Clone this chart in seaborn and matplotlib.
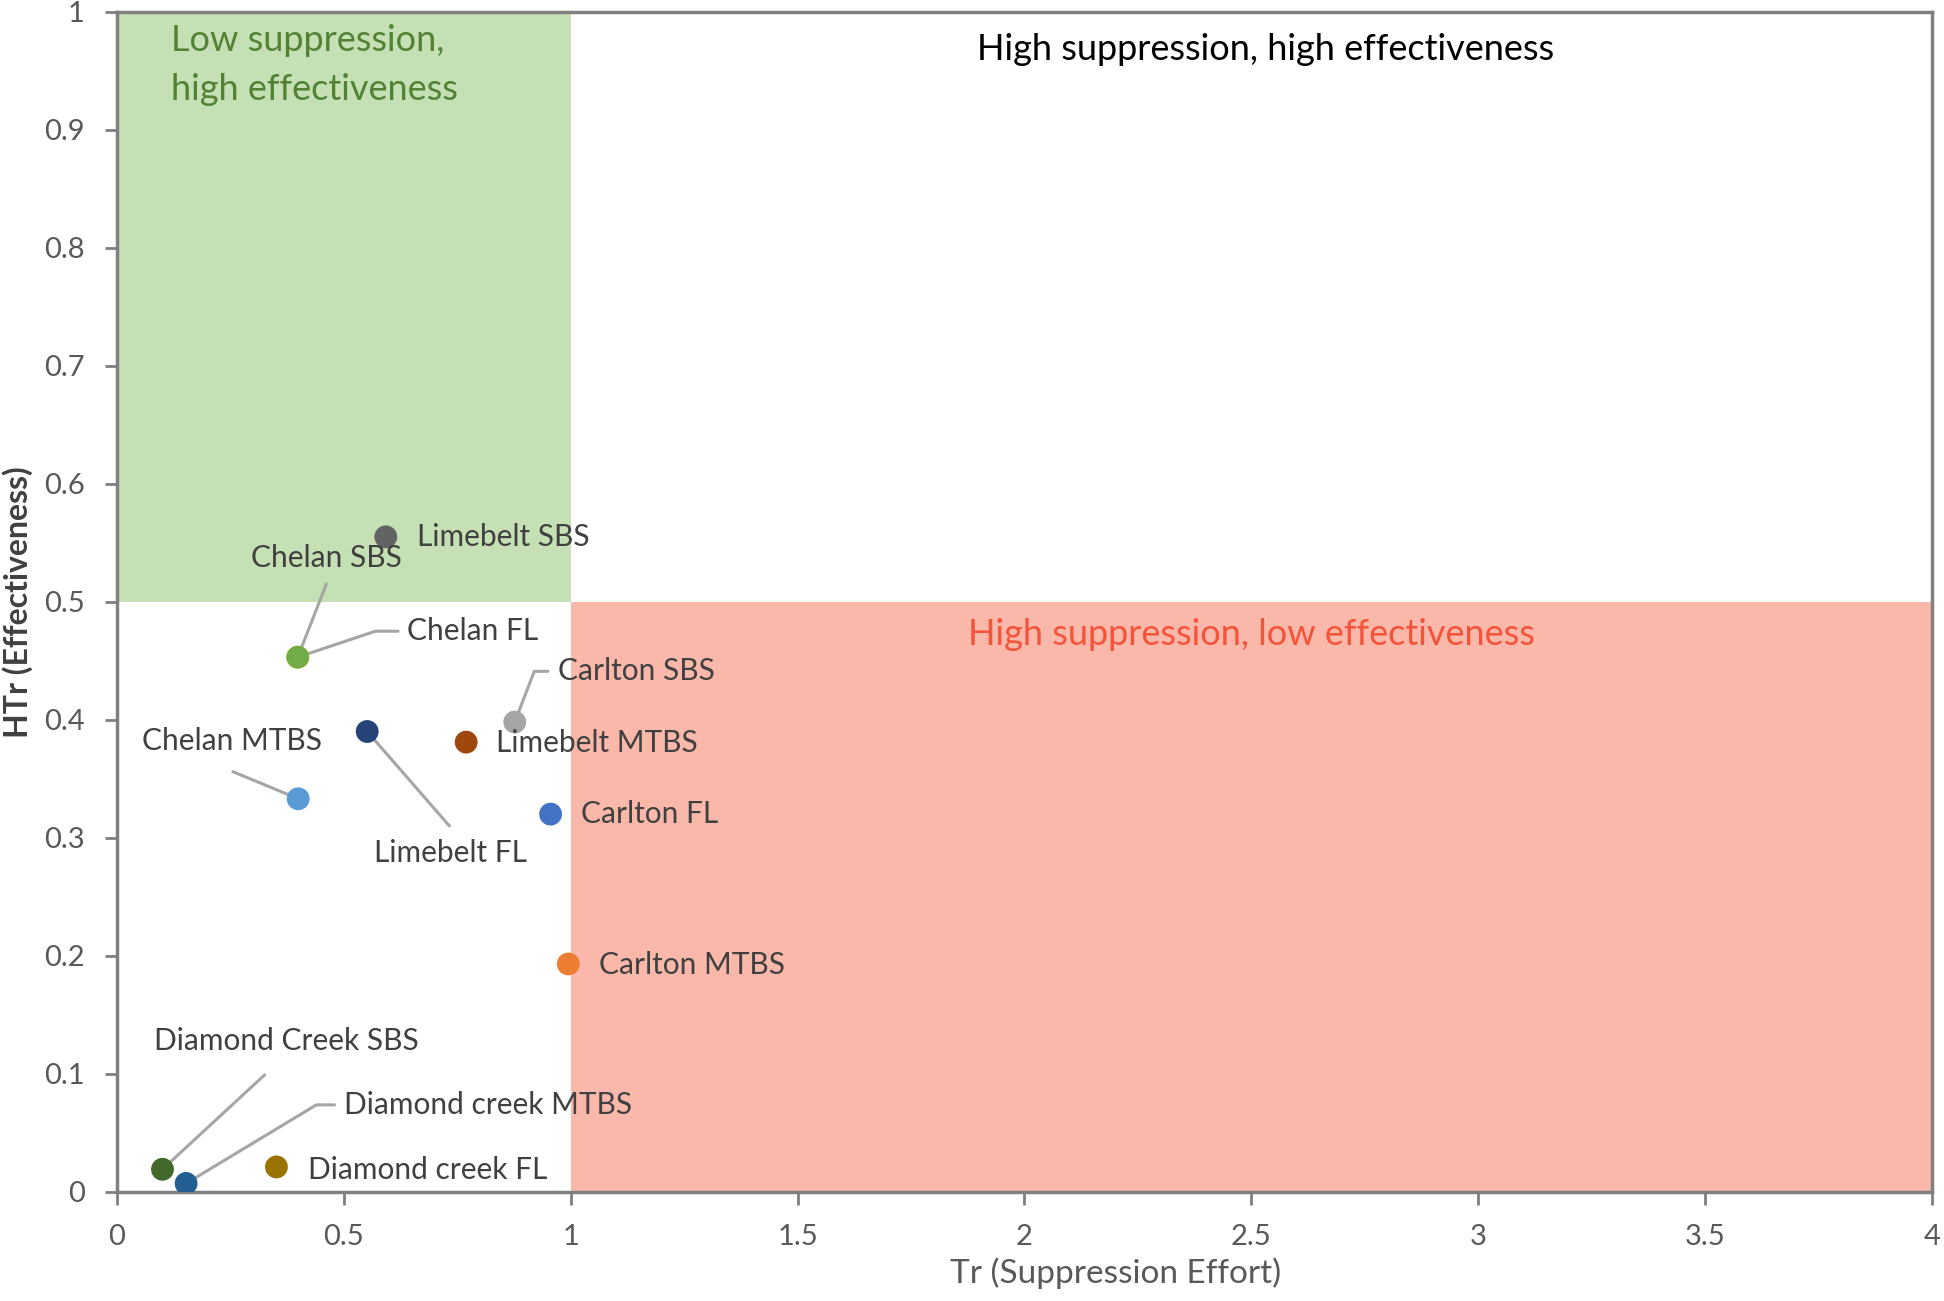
import matplotlib
matplotlib.use("Agg")
import matplotlib.pyplot as plt
import seaborn as sns
import pandas as pd

# ----------- data -----------
names = ['Carlton FL', 'Carlton MTBS', 'Carlton SBS', 'Chelan SBS', 'Chelan MTBS', 'Chelan FL',
         'Limebelt FL', 'Limebelt MTBS', 'Limebelt SBS', 'Diamond creek FL',
         'Diamond creek MTBS', 'Diamond Creek SBS']
tr = [0.956, 0.995, 0.877, 0.399, 0.40, 0.399, 0.552, 0.770, 0.593, 0.352, 0.153, 0.101]
htr = [0.320, 0.193, 0.398, 0.453, 0.333, 0.453, 0.390, 0.381, 0.555, 0.021, 0.007, 0.019]
colors = ['#4472C4', '#ED7D31', '#A5A5A5', '#FFC000', '#5B9BD5', '#70AD47',
          '#264478', '#9E480E', '#636363', '#997300', '#255E91', '#43682B']

x_ticks = [0, 0.5, 1, 1.5, 2, 2.5, 3, 3.5, 4]
x_ticklabels = ['0', '0.5', '1', '1.5', '2', '2.5', '3', '3.5', '4']
y_ticks = [0, 0.1, 0.2, 0.3, 0.4, 0.5, 0.6, 0.7, 0.8, 0.9, 1]
y_ticklabels = ['0', '0.1', '0.2', '0.3', '0.4', '0.5', '0.6', '0.7', '0.8', '0.9', '1']

df = pd.DataFrame({'Tr': tr, 'HTr': htr, 'site': names})

# label placement (x, y, ha) and leader-line bends, in data units
label_pos = {
    'Carlton FL': (1.022, 0.320, 'left'),
    'Carlton MTBS': (1.063, 0.192, 'left'),
    'Carlton SBS': (0.973, 0.441, 'left'),
    'Chelan SBS': (0.462, 0.537, 'center'),
    'Chelan MTBS': (0.254, 0.382, 'center'),
    'Chelan FL': (0.639, 0.475, 'left'),
    'Limebelt FL': (0.735, 0.287, 'center'),
    'Limebelt MTBS': (0.836, 0.380, 'left'),
    'Limebelt SBS': (0.661, 0.555, 'left'),
    'Diamond creek FL': (0.421, 0.018, 'left'),
    'Diamond creek MTBS': (0.500, 0.0736, 'left'),
    'Diamond Creek SBS': (0.374, 0.128, 'center'),
}
leaders = {
    'Chelan SBS': [(0.462, 0.515)],
    'Chelan FL': [(0.57, 0.475), (0.62, 0.475)],
    'Carlton SBS': [(0.92, 0.441), (0.950, 0.441)],
    'Chelan MTBS': [(0.256, 0.356)],
    'Limebelt FL': [(0.733, 0.310)],
    'Diamond Creek SBS': [(0.326, 0.099)],
    'Diamond creek MTBS': [(0.440, 0.0736), (0.480, 0.0736)],
}

# ----------- plot -----------
sns.set_style('white')
plt.rcParams['font.family'] = ['Lato', 'DejaVu Sans']

fig = plt.figure(figsize=(19.44, 13.01), dpi=100)
ax = fig.add_axes([0.060, 0.084, 0.934, 0.907])

# quadrant shading
ax.axvspan(0, 1, ymin=0.5, ymax=1, color='#C5E0B4', lw=0, zorder=0)
ax.axvspan(1, 4, ymin=0, ymax=0.5, color='#FAB8AB', lw=0, zorder=0)

for name, (px, py) in zip(names, zip(tr, htr)):
    if name in leaders:
        pts = [(px, py)] + leaders[name]
        ax.plot([p[0] for p in pts], [p[1] for p in pts], color='#A6A6A6', lw=2.2, zorder=2)

sns.scatterplot(data=df, x='Tr', y='HTr', hue='site', palette=dict(zip(names, colors)),
                hue_order=names, s=270, edgecolor='none', legend=False, ax=ax, zorder=3)

for name in names:
    lx, ly, ha = label_pos[name]
    ax.text(lx, ly, name, ha=ha, va='center', fontsize=21.5, color='#404040', zorder=4)

ax.text(0.12, 0.990, 'Low suppression,\nhigh effectiveness', ha='left', va='top',
        fontsize=26, color='#548235', linespacing=1.6)
ax.text(2.53, 0.968, 'High suppression, high effectiveness', ha='center', va='center',
        fontsize=26, color='#000000')
ax.text(2.50, 0.472, 'High suppression, low effectiveness', ha='center', va='center',
        fontsize=26, color='#F4543A')

ax.set_xlim(0, 4)
ax.set_ylim(0, 1)
ax.set_xticks(x_ticks)
ax.set_xticklabels(x_ticklabels)
ax.set_yticks(y_ticks)
ax.set_yticklabels(y_ticklabels)
ax.tick_params(axis='both', direction='out', length=9, width=2, color='#808080',
               labelsize=21, labelcolor='#595959', pad=14, bottom=True, left=True)

for sp in ax.spines.values():
    sp.set_color('#808080')
    sp.set_linewidth(2.5)

ax.set_xlabel('Tr (Suppression Effort)', fontsize=24, color='#595959', labelpad=2)
ax.xaxis.set_label_coords(0.55, -0.056)
ax.set_ylabel('HTr (Effectiveness)', fontsize=23, color='#404040', fontweight='bold')
ax.yaxis.set_label_coords(-0.046, 0.5)

fig.savefig('out.png', dpi=100)
